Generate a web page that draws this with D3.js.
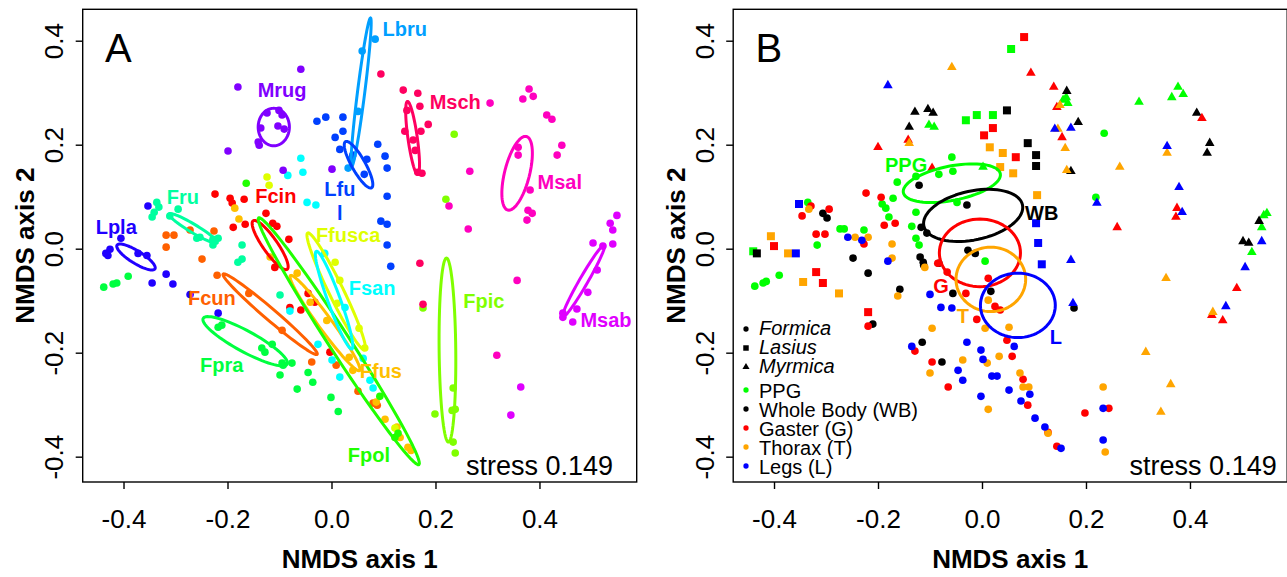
<!DOCTYPE html>
<html>
<head>
<meta charset="utf-8">
<script src="https://cdn.jsdelivr.net/npm/d3@7"></script>
<style>
  body { margin: 0; background: #fff; }
  svg { display: block; }
</style>
</head>
<body>
<svg id="chart" width="1287" height="577"></svg>
<script>
// ---------- Panel A: NMDS scores by species ----------
const species = ["Fcin", "Fcun", "Ffus", "Ffusca", "Fpic", "Fpol", "Fpra", "Fru",
                 "Fsan", "Lbru", "Lfu", "Lpla", "Mrug", "Msab", "Msal", "Msch"];

const fcin = [[-0.224,0.105],[-0.195,0.097],[-0.191,0.088],[-0.168,0.095],[-0.189,0.041],[-0.166,0.047],[-0.126,0.068],[-0.113,0.049],[-0.105,0.043],[-0.082,0.018],[-0.109,-0.036],[-0.080,-0.113],[-0.059,-0.118],[-0.045,-0.086],[-0.032,-0.103],[-0.003,-0.199]];
const fcun = [[-0.318,0.026],[-0.303,0.026],[-0.318,0.003],[-0.249,-0.020],[-0.226,0.034],[-0.220,-0.051],[-0.159,-0.086],[-0.095,-0.157],[-0.038,-0.218],[0.009,-0.224],[0.051,-0.274],[0.080,-0.297],[0.088,-0.301],[-0.272,0.036]];
const ffus = [[-0.186,0.078],[-0.178,0.057],[-0.066,-0.047],[-0.041,-0.103],[-0.009,-0.138],[0.034,-0.209],[0.041,-0.234],[0.086,-0.295],[0.103,-0.328],[0.126,-0.343],[0.132,-0.363],[0.147,-0.382],[0.153,-0.388],[-0.118,-0.016]];
const ffusca = [[-0.124,0.138],[-0.120,0.122],[0.007,-0.026],[0.016,-0.061],[0.011,-0.105],[0.053,-0.153],[0.064,-0.191],[0.122,-0.345]];
const fpic = [[0.236,0.220],[0.220,0.095],[0.176,-0.114],[0.234,-0.268],[0.238,-0.309],[0.232,-0.311],[0.199,-0.318],[0.234,-0.372],[0.238,-0.393]];
const fpol = [[-0.164,0.126],[0.093,-0.284],[0.128,-0.355],[0.122,-0.363]];
const fpra = [[-0.218,-0.151],[-0.211,-0.147],[-0.134,-0.191],[-0.128,-0.199],[-0.114,-0.184],[-0.095,-0.220],[-0.093,-0.224],[-0.076,-0.220],[-0.099,-0.243],[-0.045,-0.238],[-0.036,-0.257],[-0.066,-0.270],[-0.001,-0.286],[0.013,-0.313],[-0.438,-0.074],[-0.420,-0.068],[-0.413,-0.066],[-0.391,-0.053]];
const fru = [[-0.336,0.089],[-0.332,0.080],[-0.345,0.061],[-0.341,0.070],[-0.295,0.076],[-0.311,0.063],[-0.259,0.020],[-0.253,0.022],[-0.228,0.018],[-0.218,0.020],[-0.228,0.007],[-0.172,0.007],[-0.180,-0.026],[-0.172,-0.020],[-0.099,-0.089]];
const fsan = [[-0.059,0.174],[-0.055,0.147],[-0.084,0.141],[-0.047,0.089],[-0.030,0.084],[-0.013,-0.009],[0.026,-0.113],[-0.080,-0.120],[-0.026,-0.184],[0.001,-0.214],[0.016,-0.247],[0.061,-0.211],[0.074,-0.253],[0.080,-0.268]];
const lbru = [[0.084,0.403],[0.059,0.380],[0.051,0.264],[0.039,0.174],[0.032,0.155]];
const lfu = [[-0.028,0.245],[-0.011,0.253],[0.022,0.253],[0.022,0.226],[0.007,0.214],[0.016,0.191],[0.041,0.180],[0.068,0.172],[0.063,0.143],[0.089,0.201],[0.103,0.178],[0.107,0.155],[0.107,0.101],[0.095,0.053],[0.107,0.047],[0.107,0.007],[0.114,-0.034]];
const lpla = [[-0.353,0.082],[-0.405,0.020],[-0.434,-0.009],[-0.430,-0.013],[-0.426,-0.001],[-0.372,-0.009],[-0.355,-0.013],[-0.318,-0.049],[-0.345,-0.066],[-0.305,-0.068],[-0.272,-0.088],[-0.218,-0.124]];
const mrug = [[-0.059,0.345],[-0.180,0.311],[-0.199,0.188],[-0.093,0.151],[0.001,0.153],[-0.124,0.261],[-0.101,0.266],[-0.095,0.257],[-0.136,0.232],[-0.103,0.236],[-0.091,0.230],[-0.141,0.205],[-0.139,0.199]];
const msab = [[0.549,0.064],[0.536,0.049],[0.541,0.036],[0.503,0.011],[0.522,0.005],[0.541,0.009],[0.511,-0.041],[0.493,-0.084],[0.472,-0.116],[0.445,-0.124],[0.445,-0.132],[0.464,-0.141],[0.364,-0.266],[0.345,-0.320]];
const msal = [[0.305,0.280],[0.380,0.307],[0.368,0.288],[0.388,0.293],[0.414,0.257],[0.424,0.249],[0.443,0.199],[0.434,0.180],[0.359,0.195],[0.359,0.180],[0.382,0.113],[0.378,0.074],[0.386,0.068],[0.376,0.055],[0.266,0.149],[0.226,0.082],[0.263,0.038],[0.357,-0.061],[0.318,-0.205]];
const msch = [[0.095,0.336],[0.138,0.305],[0.166,0.299],[0.170,0.274],[0.145,0.266],[0.186,0.239],[0.141,0.226],[0.172,0.226],[0.157,0.209],[0.161,0.189],[0.166,0.147],[0.174,0.145],[0.170,-0.028],[0.176,-0.107]];

// ellipses per species: [centre x, centre y, semi-axis a, semi-axis b, angle in degrees]
const ellipsesA = [
  [-0.118, 0.007, 0.057, 0.014, -55], [-0.118, -0.126, 0.119, 0.011, -40.5],
  [-0.0125, -0.143, 0.113, 0.013, -54], [0.009, -0.082, 0.125, 0.014, -64],
  [0.223, -0.195, 0.177, 0.016, 90.6], [0.014, -0.178, 0.283, 0.020, -57],
  [-0.166, -0.178, 0.092, 0.020, -28.6], [-0.266, 0.039, 0.054, 0.008, -31],
  [0.005, -0.099, 0.100, 0.012, -70], [0.057, 0.301, 0.144, 0.007, 82.8],
  [0.052, 0.1615, 0.051, 0.013, -60.6], [-0.376, -0.016, 0.043, 0.012, -32],
  [-0.111, 0.234, 0.036, 0.030, 90], [0.485, -0.062, 0.080, 0.008, 60],
  [0.357, 0.145, 0.073, 0.024, 75.8], [0.156, 0.213, 0.071, 0.009, 98]
];
// label anchor per species (data units)
const labelsA = [
  [-0.107, 0.101], [-0.230, -0.095], [0.095, -0.236], [0.032, 0.026],
  [0.293, -0.101], [0.072, -0.397], [-0.211, -0.224], [-0.286, 0.099],
  [0.078, -0.076], [0.141, 0.422], [0.016, 0.114], [-0.414, 0.041],
  [-0.095, 0.305], [0.528, -0.138], [0.439, 0.128], [0.238, 0.282]
];
const extraLabelA = { text: "l", pos: [0.016, 0.068], species: "Lfu" };

// ---------- Panel B: same scores by body part and genus ----------
const parts = ["PPG", "WB", "G", "T", "L"];
const partNames = ["PPG", "Whole Body (WB)", "Gaster (G)", "Thorax (T)", "Legs (L)"];
const genera = ["Formica", "Lasius", "Myrmica"];

// Formica (circles)
const ppgF = [[-0.058,0.176],[-0.083,0.143],[-0.056,0.149],[-0.127,0.139],[-0.163,0.128],[-0.171,0.097],[-0.192,0.086],[-0.185,0.078],[-0.179,0.061],[-0.127,0.070],[-0.135,0.043],[-0.127,0.020],[-0.121,0.007],[-0.227,0.036],[-0.273,0.038],[-0.265,0.038],[-0.317,0.007],[-0.335,0.089],[-0.390,-0.051],[-0.415,-0.063],[-0.421,-0.066],[-0.437,-0.072],[-0.048,0.089],[0.006,-0.024],[0.235,0.222],[0.219,0.099]];
const wbF = [[-0.121,0.122],[-0.306,0.068],[-0.298,0.059],[-0.117,0.041],[-0.106,0.030],[-0.248,-0.018],[-0.219,-0.047],[-0.119,-0.016],[-0.113,-0.026],[-0.112,-0.032],[-0.158,-0.078],[-0.029,0.084],[-0.083,-0.028],[-0.027,-0.003],[-0.013,-0.009],[0.017,-0.082],[-0.210,-0.145],[-0.115,-0.180],[-0.077,-0.218],[-0.056,-0.086],[0.177,-0.114]];
const gF = [[-0.223,0.107],[-0.194,0.099],[-0.294,0.076],[-0.329,0.082],[-0.346,0.063],[-0.319,0.028],[-0.302,0.028],[-0.188,0.045],[-0.167,0.049],[-0.227,0.009],[-0.085,-0.028],[-0.067,-0.045],[0.012,-0.057],[-0.219,-0.149],[-0.129,-0.197],[-0.096,-0.218],[-0.065,-0.266],[-0.031,-0.086],[-0.010,-0.136],[0.025,-0.111],[0.035,-0.118],[0.048,-0.176],[0.058,-0.207],[0.079,-0.251],[0.088,-0.301],[0.127,-0.353],[0.144,-0.380],[0.198,-0.316],[0.244,-0.307]];
const tF = [[-0.333,0.076],[-0.219,0.022],[-0.173,0.009],[-0.173,-0.018],[-0.244,0.022],[-0.110,-0.036],[-0.162,-0.091],[-0.096,-0.153],[-0.100,-0.239],[-0.037,-0.214],[0.010,-0.220],[0.012,-0.099],[0.006,-0.153],[0.052,-0.151],[0.033,-0.207],[0.073,-0.239],[0.079,-0.266],[0.090,-0.266],[0.012,-0.309],[0.127,-0.355],[0.233,-0.266],[0.237,-0.391]];
const lF = [[-0.258,0.022],[-0.231,0.016],[-0.181,-0.024],[-0.100,-0.088],[-0.079,-0.113],[-0.058,-0.114],[-0.135,-0.188],[-0.029,-0.180],[-0.002,-0.195],[0.002,-0.213],[-0.046,-0.234],[-0.037,-0.253],[0.019,-0.245],[0.029,-0.245],[0.062,-0.188],[-0.002,-0.284],[0.052,-0.272],[0.075,-0.293],[0.092,-0.280],[0.102,-0.326],[0.121,-0.343],[0.152,-0.384],[0.233,-0.307],[0.233,-0.368]];
// Lasius (squares)
const ppgL = [[-0.031,0.247],[0.056,0.384],[-0.010,0.257],[0.021,0.257],[-0.440,-0.005]];
const wbL = [[-0.433,-0.009],[0.048,0.266],[0.088,0.203],[0.104,0.180],[0.104,0.159]];
const gL = [[-0.400,0.005],[-0.319,-0.045],[-0.306,-0.066],[-0.219,-0.122],[0.081,0.407],[0.021,0.232],[0.004,0.218],[0.065,0.176]];
const tL = [[-0.406,0.024],[-0.373,-0.009],[-0.344,-0.064],[-0.275,-0.086],[0.015,0.195],[0.040,0.184],[0.035,0.157],[0.060,0.145],[0.106,0.103]];
const lL = [[-0.352,0.086],[-0.358,-0.009],[0.104,0.049],[0.108,0.011],[0.115,-0.030]];
// Myrmica (triangles)
const ppgM = [[-0.102,0.238],[-0.092,0.234],[0.002,0.157],[0.162,0.291],[0.156,0.286],[0.165,0.280],[0.302,0.282],[0.377,0.311],[0.365,0.291],[0.387,0.297],[0.542,0.064],[0.548,0.068],[0.538,0.041],[0.519,-0.007]];
const wbM = [[-0.129,0.263],[-0.104,0.268],[-0.094,0.261],[-0.140,0.234],[0.163,0.303],[0.185,0.243],[0.171,0.149],[0.413,0.261],[0.438,0.203],[0.433,0.184],[0.533,0.053],[0.502,0.014],[0.513,0.011]];
const gM = [[-0.142,0.209],[-0.200,0.195],[-0.096,0.155],[0.094,0.338],[0.138,0.311],[0.144,0.272],[0.154,0.214],[0.260,0.041],[0.375,0.078],[0.373,0.061],[0.423,0.251],[0.490,-0.076],[0.442,-0.128],[0.463,-0.138]];
const tM = [[-0.058,0.349],[-0.140,0.203],[0.150,0.276],[0.146,0.230],[0.160,0.193],[0.163,0.151],[0.265,0.157],[0.356,0.184],[0.354,-0.057],[0.444,-0.122],[0.315,-0.199],[0.363,-0.261],[0.344,-0.314]];
const lM = [[-0.181,0.314],[0.140,0.230],[0.171,0.232],[0.356,0.197],[0.379,0.118],[0.221,0.088],[0.385,0.070],[0.538,0.014],[0.506,-0.036],[0.171,-0.022],[0.469,-0.111],[0.175,-0.105]];

// ellipses per body part: [cx, cy, a, b, angle]
const ellipsesB = [
  [-0.058, 0.126, 0.095, 0.033, 11], [-0.017, 0.064, 0.097, 0.047, 12],
  [-0.004, -0.008, 0.078, 0.065, 0], [0.017, -0.059, 0.067, 0.062, 0],
  [0.069, -0.109, 0.072, 0.062, 0]
];
const labelsB = [[-0.146, 0.161], [0.115, 0.068], [-0.079, -0.072], [-0.037, -0.130], [0.142, -0.170]];
const stressText = "stress 0.149";

// ---------- drawing ----------
const font = '"Liberation Sans", Arial, Helvetica, sans-serif';
const svg = d3.select("#chart");

const plot = { left: 82.7, right: 636.7, top: 9.3, bottom: 482 };
const x = d3.scaleLinear().domain([-0.4785, 0.587]).range([plot.left, plot.right]);
const y = d3.scaleLinear().domain([-0.4487, 0.4604]).range([plot.bottom, plot.top]);
const ticks = [-0.4, -0.2, 0, 0.2, 0.4];

const speciesColor = species.map((s, i) => d3.hsl(i * 360 / species.length, 1, 0.5).formatHex());
const partColor = ["#00FF00", "#000000", "#FF0000", "#FFA500", "#0000FF"];

function ellipsePath(e) {
  const [cx, cy, a, b, ang] = e;
  const t = ang * Math.PI / 180;
  const pts = d3.range(0, 72).map(i => {
    const s = i / 72 * 2 * Math.PI;
    const ex = cx + a * Math.cos(t) * Math.cos(s) - b * Math.sin(t) * Math.sin(s);
    const ey = cy + a * Math.sin(t) * Math.cos(s) + b * Math.cos(t) * Math.sin(s);
    return [x(ex), y(ey)];
  });
  return d3.line()(pts) + "Z";
}

function frame(g, letter, stressRight) {
  g.append("rect")
    .attr("x", plot.left).attr("y", plot.top)
    .attr("width", plot.right - plot.left).attr("height", plot.bottom - plot.top)
    .attr("fill", "none").attr("stroke", "#000").attr("stroke-width", 1.4);

  const ax = g.append("g").attr("transform", `translate(0,${plot.bottom})`)
    .call(d3.axisBottom(x).tickValues(ticks).tickSize(7).tickSizeOuter(0).tickFormat(d => d.toFixed(1)));
  ax.select(".domain").remove();
  ax.attr("font-size", 26).attr("font-family", font);
  ax.selectAll("line").attr("stroke", "#000").attr("stroke-width", 1.4);
  ax.selectAll("text").attr("y", 46).attr("dy", null).attr("fill", "#000");

  const ay = g.append("g").attr("transform", `translate(${plot.left},0)`)
    .call(d3.axisLeft(y).tickValues(ticks).tickSize(7).tickSizeOuter(0).tickFormat(d => d.toFixed(1)));
  ay.select(".domain").remove();
  ay.attr("font-size", 26).attr("font-family", font);
  ay.selectAll("line").attr("stroke", "#000").attr("stroke-width", 1.4);
  ay.selectAll("text")
    .attr("transform", "rotate(-90)")
    .attr("x", 0).attr("y", -19.7).attr("dy", null)
    .attr("text-anchor", "middle").attr("fill", "#000");

  g.append("text")
    .attr("x", (plot.left + plot.right) / 2).attr("y", 568)
    .attr("text-anchor", "middle").attr("font-family", font)
    .attr("font-size", 26).attr("font-weight", "bold")
    .text("NMDS axis 1");
  g.append("text")
    .attr("transform", `translate(34,${(plot.top + plot.bottom) / 2}) rotate(-90)`)
    .attr("text-anchor", "middle").attr("font-family", font)
    .attr("font-size", 26).attr("font-weight", "bold")
    .text("NMDS axis 2");

  g.append("text")
    .attr("x", 105).attr("y", 62)
    .attr("font-family", font).attr("font-size", 40)
    .text(letter);

  g.append("text")
    .attr("x", stressRight).attr("y", 475)
    .attr("text-anchor", "end").attr("font-family", font).attr("font-size", 27)
    .text(stressText);
}

// Panel A
const gA = svg.append("g");
const groupsA = [fcin, fcun, ffus, ffusca, fpic, fpol, fpra, fru, fsan, lbru, lfu, lpla, mrug, msab, msal, msch]
  .map((pts, i) => ({ name: species[i], pts, color: speciesColor[i], ell: ellipsesA[i], lab: labelsA[i] }));

groupsA.forEach(gr => {
  gA.append("g").selectAll("circle").data(gr.pts).join("circle")
    .attr("cx", d => x(d[0])).attr("cy", d => y(d[1])).attr("r", 3.8)
    .attr("fill", gr.color);
});
groupsA.forEach(gr => {
  gA.append("path").attr("d", ellipsePath(gr.ell))
    .attr("fill", "none").attr("stroke", gr.color).attr("stroke-width", 3)
    .attr("stroke-linejoin", "round");
});
groupsA.forEach(gr => {
  gA.append("text")
    .attr("x", x(gr.lab[0])).attr("y", y(gr.lab[1])).attr("dy", "0.35em")
    .attr("text-anchor", "middle").attr("font-family", font)
    .attr("font-size", 20).attr("font-weight", "bold")
    .attr("fill", gr.color).text(gr.name);
});
gA.append("text")
  .attr("x", x(extraLabelA.pos[0])).attr("y", y(extraLabelA.pos[1])).attr("dy", "0.35em")
  .attr("text-anchor", "middle").attr("font-family", font)
  .attr("font-size", 20).attr("font-weight", "bold")
  .attr("fill", speciesColor[species.indexOf(extraLabelA.species)]).text(extraLabelA.text);
frame(gA, "A", 613);

// Panel B
const gB = svg.append("g").attr("transform", "translate(650.5,0)");
const shapes = [d3.symbolCircle, d3.symbolSquare, d3.symbolTriangle];
const shapeSize = [46, 64, 40];
const groupsB = [
  [ppgF, ppgL, ppgM], [wbF, wbL, wbM], [gF, gL, gM], [tF, tL, tM], [lF, lL, lM]
];
groupsB.forEach((byGenus, p) => {
  byGenus.forEach((pts, k) => {
    gB.append("g").selectAll("path").data(pts).join("path")
      .attr("transform", d => `translate(${x(d[0])},${y(d[1])})`)
      .attr("d", d3.symbol(shapes[k], shapeSize[k]))
      .attr("fill", partColor[p]);
  });
});
ellipsesB.forEach((e, p) => {
  gB.append("path").attr("d", ellipsePath(e))
    .attr("fill", "none").attr("stroke", partColor[p]).attr("stroke-width", 3)
    .attr("stroke-linejoin", "round");
});
labelsB.forEach((l, p) => {
  gB.append("text")
    .attr("x", x(l[0])).attr("y", y(l[1])).attr("dy", "0.35em")
    .attr("text-anchor", "middle").attr("font-family", font)
    .attr("font-size", 20).attr("font-weight", "bold")
    .attr("fill", partColor[p]).text(parts[p]);
});

// legend
const leg = gB.append("g").attr("font-family", font).attr("font-size", 20);
const legendRows = genera.map((gname, k) => ({ label: gname, italic: true, shape: shapes[k], size: [22, 30, 22][k], color: "#000" }))
  .concat(partNames.map((pn, p) => ({ label: pn, italic: false, shape: d3.symbolCircle, size: 22, color: partColor[p] })));
const legBase = [335, 354, 373, 398, 417, 436, 455, 474];
legendRows.forEach((r, i) => {
  const sy = legBase[i] - (r.italic ? 6 : 8);
  leg.append("path")
    .attr("transform", `translate(95.5,${sy})`)
    .attr("d", d3.symbol(r.shape, r.size))
    .attr("fill", r.color);
  leg.append("text")
    .attr("x", 108.5).attr("y", legBase[i])
    .attr("font-style", r.italic ? "italic" : "normal")
    .text(r.label);
});
frame(gB, "B", 626.2);
</script>
</body>
</html>
